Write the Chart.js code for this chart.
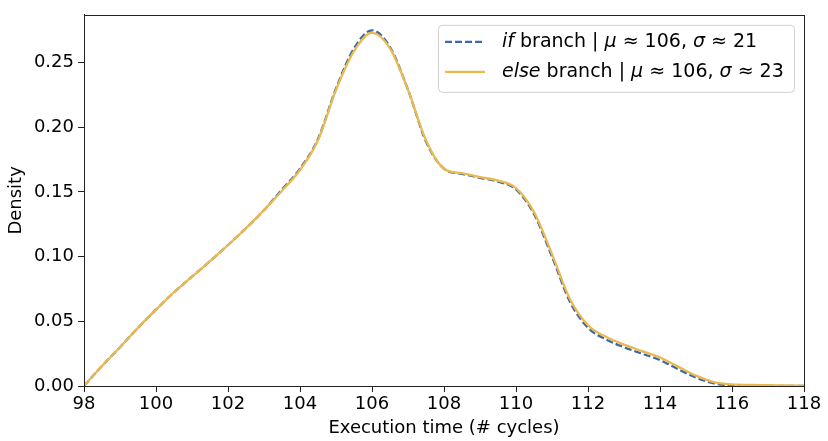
<!DOCTYPE html>
<html>
<head>
<meta charset="utf-8">
<script src="https://cdn.jsdelivr.net/npm/chart.js@4"></script>
<style>
  html, body { margin: 0; padding: 0; background: #fff; }
  #wrap { width: 828px; height: 441px; }
</style>
</head>
<body>
<div id="wrap"><canvas id="kde"></canvas></div>
<script>
// KDE of execution time, sampled every half cycle
const cycles = [98, 98.5, 99, 99.5, 100, 100.5, 101, 101.5, 102, 102.5, 103, 103.5, 104, 104.5,
    105, 105.5, 106, 106.5, 107, 107.5, 108, 108.5, 109, 109.5, 110, 110.5, 111, 111.5,
    112, 112.5, 113, 113.5, 114, 114.5, 115, 115.5, 116, 116.5, 117, 117.5, 118];

const densityIf = [0, 0.0155, 0.030, 0.045, 0.059, 0.0725, 0.0845, 0.0965, 0.109, 0.122, 0.136, 0.152, 0.168, 0.191,
    0.230, 0.261, 0.275, 0.262, 0.229, 0.189, 0.168, 0.164, 0.161, 0.158, 0.152, 0.133, 0.100, 0.065,
    0.045, 0.036, 0.030, 0.025, 0.020, 0.013, 0.0065, 0.002, 0.0006, 0.0004, 0.0002, 0.0001, 0.0001];

const densityElse = [0, 0.0155, 0.030, 0.045, 0.059, 0.0725, 0.0845, 0.0965, 0.109, 0.122, 0.136, 0.151, 0.167, 0.190,
    0.229, 0.259, 0.273, 0.261, 0.229, 0.190, 0.168, 0.1645, 0.1615, 0.1588, 0.153, 0.1345, 0.102, 0.067,
    0.047, 0.038, 0.032, 0.027, 0.022, 0.015, 0.008, 0.003, 0.0012, 0.0008, 0.0006, 0.0004, 0.0003];

const xTicks = [98, 100, 102, 104, 106, 108, 110, 112, 114, 116, 118];
const yTicks = [0, 0.05, 0.10, 0.15, 0.20, 0.25];

// legend rows: [text, italic?] pieces
const legendRows = [
    [["if", true], [" branch | ", false], ["\u03bc", true], [" \u2248 106, ", false], ["\u03c3", true], [" \u2248 21", false]],
    [["else", true], [" branch | ", false], ["\u03bc", true], [" \u2248 106, ", false], ["\u03c3", true], [" \u2248 23", false]]
];

const BLUE = '#3b6aa6';
const GOLD = '#ebb94f';
const FONT = '"DejaVu Sans", sans-serif';

function toPoints(ys) {
    return cycles.map((x, i) => ({ x: x, y: ys[i] }));
}

// box around the plot area, like matplotlib spines
const frame = {
    id: 'frame',
    afterDraw(chart) {
        const { ctx, chartArea: a } = chart;
        ctx.save();
        ctx.strokeStyle = '#222';
        ctx.lineWidth = 1;
        ctx.strokeRect(Math.round(a.left) + 0.5, Math.round(a.top) + 0.5,
            Math.round(a.right - a.left), Math.round(a.bottom - a.top));
        ctx.restore();
    }
};

// legend with italic pieces, top right
const richLegend = {
    id: 'richLegend',
    afterDraw(chart) {
        const ctx = chart.ctx;
        const a = chart.chartArea;
        const bx = a.right - 366, by = a.top + 10, bw = 356, bh = 67;
        ctx.save();
        ctx.beginPath();
        ctx.roundRect(bx + 0.5, by + 0.5, bw, bh, 4);
        ctx.fillStyle = 'rgba(255,255,255,0.8)';
        ctx.fill();
        ctx.strokeStyle = '#d0d0d0';
        ctx.lineWidth = 1;
        ctx.stroke();

        const styles = [
            { color: BLUE, dash: [7, 3] },
            { color: GOLD, dash: [] }
        ];
        legendRows.forEach((row, i) => {
            const y = by + 17 + i * 30;
            ctx.beginPath();
            ctx.setLineDash(styles[i].dash);
            ctx.strokeStyle = styles[i].color;
            ctx.lineWidth = 2.2;
            ctx.moveTo(bx + 7, y);
            ctx.lineTo(bx + 47, y);
            ctx.stroke();
            ctx.setLineDash([]);

            let x = bx + 64;
            ctx.fillStyle = '#000';
            ctx.textBaseline = 'middle';
            row.forEach(([txt, it]) => {
                ctx.font = (it ? 'italic ' : '') + '19px ' + FONT;
                ctx.fillText(txt, x, y);
                x += ctx.measureText(txt).width;
            });
        });
        ctx.restore();
    }
};

const config = {
    type: 'line',
    data: {
        datasets: [
            {
                label: 'if branch',
                data: toPoints(densityIf),
                borderColor: BLUE,
                borderWidth: 2.3,
                borderDash: [7, 3],
                pointRadius: 0,
                cubicInterpolationMode: 'monotone',
                order: 1
            },
            {
                label: 'else branch',
                data: toPoints(densityElse),
                borderColor: GOLD,
                borderWidth: 2.3,
                pointRadius: 0,
                cubicInterpolationMode: 'monotone',
                order: 0
            }
        ]
    },
    options: {
        responsive: true,
        maintainAspectRatio: false,
        animation: false,
        layout: { padding: { top: 5, right: 24, left: 0, bottom: 0 } },
        plugins: {
            legend: { display: false },
            tooltip: { enabled: false }
        },
        scales: {
            x: {
                type: 'linear',
                min: 98,
                max: 118,
                afterBuildTicks: s => { s.ticks = xTicks.map(v => ({ value: v })); },
                afterFit: s => { s.height = 55; },
                grid: { drawOnChartArea: false, tickLength: 6, tickColor: '#222' },
                border: { color: '#222' },
                ticks: {
                    color: '#000',
                    padding: 2,
                    font: { family: FONT, size: 18 },
                    maxRotation: 0,
                    callback: v => String(v)
                },
                title: {
                    display: true,
                    text: 'Execution time (# cycles)',
                    color: '#000',
                    font: { family: FONT, size: 18 },
                    padding: { top: 0, bottom: 2 }
                }
            },
            y: {
                type: 'linear',
                min: 0,
                max: 0.287,
                afterBuildTicks: s => { s.ticks = yTicks.map(v => ({ value: v })); },
                afterFit: s => { s.width = 84; },
                grid: { drawOnChartArea: false, tickLength: 6, tickColor: '#222' },
                border: { color: '#222' },
                ticks: {
                    color: '#000',
                    padding: 4,
                    font: { family: FONT, size: 18 },
                    callback: v => v.toFixed(2)
                },
                title: {
                    display: true,
                    text: 'Density',
                    color: '#000',
                    font: { family: FONT, size: 18 },
                    padding: { top: 6, bottom: 0 }
                }
            }
        }
    },
    plugins: [frame, richLegend]
};

new Chart(document.getElementById('kde').getContext('2d'), config);
</script>
</body>
</html>
